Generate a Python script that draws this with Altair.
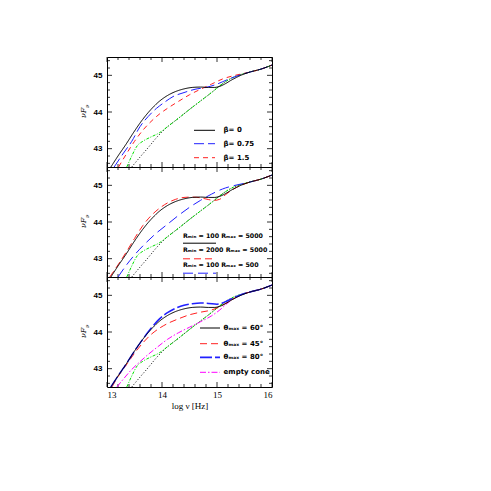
import altair as alt
import pandas as pd

# ---------------- data ----------------
# common components (same in all three panels)
green_x = [13.36, 13.45, 13.55, 13.65, 13.8, 13.95, 14.1, 14.3, 14.5, 14.7, 14.9, 15.1, 15.2, 15.3, 15.45, 15.6, 15.8, 16.0]
green_y = [42.5, 42.8, 43.08, 43.2, 43.32, 43.43, 43.6, 43.83, 44.07, 44.3, 44.53, 44.77, 44.87, 44.95, 45.03, 45.09, 45.17, 45.28]
dot_x = [13.45, 13.6, 13.75, 13.9, 14.05, 14.3, 14.5, 14.7, 14.9, 15.1, 15.2, 15.3, 15.45, 15.6, 15.8, 16.0]
dot_y = [42.5, 42.77, 43.03, 43.3, 43.53, 43.83, 44.07, 44.3, 44.53, 44.77, 44.87, 44.95, 45.03, 45.09, 45.17, 45.28]

# fiducial model (black solid, all panels)
fid_x = [13.07, 13.2, 13.35, 13.5, 13.65, 13.8, 13.95, 14.1, 14.25, 14.4, 14.55, 14.7, 14.85, 14.95, 15.05, 15.15, 15.25, 15.35, 15.45, 15.6, 15.8, 16.0]
fid_y = [42.5, 42.8, 43.13, 43.48, 43.8, 44.07, 44.29, 44.45, 44.56, 44.63, 44.67, 44.68, 44.67, 44.67, 44.7, 44.77, 44.86, 44.94, 45.01, 45.09, 45.17, 45.28]

# panel 1: beta
b075_x = [13.13, 13.3, 13.45, 13.6, 13.75, 13.9, 14.05, 14.2, 14.4, 14.6, 14.8, 15.0, 15.2, 15.4, 15.6, 15.8, 16.0]
b075_y = [42.5, 42.88, 43.2, 43.6, 43.88, 44.1, 44.27, 44.42, 44.53, 44.62, 44.67, 44.76, 44.89, 45.0, 45.09, 45.17, 45.28]
b15_x = [13.21, 13.35, 13.5, 13.65, 13.8, 13.95, 14.1, 14.3, 14.5, 14.7, 14.9, 15.1, 15.3, 15.45, 15.6, 15.8, 16.0]
b15_y = [42.5, 42.85, 43.2, 43.5, 43.74, 43.94, 44.1, 44.29, 44.47, 44.62, 44.76, 44.9, 44.99, 45.04, 45.09, 45.17, 45.28]

# panel 2: Rmin / Rmax
r2000_x = [13.05, 13.2, 13.35, 13.5, 13.65, 13.8, 13.95, 14.1, 14.25, 14.4, 14.55, 14.7, 14.85, 14.95, 15.05, 15.15, 15.25, 15.35, 15.45, 15.6, 15.8, 16.0]
r2000_y = [42.5, 42.83, 43.18, 43.55, 43.9, 44.17, 44.37, 44.52, 44.62, 44.67, 44.68, 44.66, 44.61, 44.59, 44.62, 44.74, 44.85, 44.94, 45.01, 45.09, 45.17, 45.28]
r500_x = [13.2, 13.35, 13.5, 13.7, 13.9, 14.1, 14.3, 14.5, 14.7, 14.9, 15.1, 15.3, 15.45, 15.6, 15.8, 16.0]
r500_y = [42.5, 42.82, 43.1, 43.42, 43.7, 43.94, 44.18, 44.4, 44.59, 44.76, 44.9, 44.99, 45.04, 45.09, 45.17, 45.28]

# panel 3: theta_max
t80_x = [13.07, 13.2, 13.35, 13.5, 13.65, 13.8, 13.95, 14.1, 14.25, 14.4, 14.55, 14.7, 14.85, 15.0, 15.1, 15.2, 15.35, 15.5, 15.65, 15.8, 16.0]
t80_y = [42.5, 42.8, 43.13, 43.48, 43.8, 44.1, 44.35, 44.53, 44.65, 44.73, 44.77, 44.79, 44.78, 44.76, 44.79, 44.86, 44.96, 45.05, 45.11, 45.17, 45.28]
t45_x = [13.09, 13.2, 13.35, 13.5, 13.65, 13.8, 13.95, 14.1, 14.3, 14.5, 14.7, 14.9, 15.05, 15.2, 15.35, 15.5, 15.65, 15.8, 16.0]
t45_y = [42.5, 42.78, 43.1, 43.42, 43.7, 43.93, 44.1, 44.23, 44.36, 44.47, 44.54, 44.6, 44.69, 44.82, 44.95, 45.05, 45.11, 45.17, 45.28]
cone_x = [13.18, 13.3, 13.45, 13.6, 13.75, 13.9, 14.1, 14.3, 14.5, 14.7, 14.9, 15.05, 15.2, 15.35, 15.5, 15.65, 15.8, 16.0]
cone_y = [42.5, 42.72, 42.98, 43.19, 43.39, 43.57, 43.8, 43.98, 44.13, 44.28, 44.44, 44.6, 44.8, 44.95, 45.05, 45.11, 45.17, 45.28]

# ticks and labels
x_major = [13, 14, 15, 16]
x_minor = [13.2, 13.4, 13.6, 13.8, 14.2, 14.4, 14.6, 14.8, 15.2, 15.4, 15.6, 15.8]
y_major = [43, 44, 45]
y_minor = [42.6, 42.8, 43.2, 43.4, 43.6, 43.8, 44.2, 44.4, 44.6, 44.8, 45.2, 45.4]
legend1 = ["β= 0", "β= 0.75", "β= 1.5"]
legend2 = ["Rₘᵢₙ = 100 Rₘₐₓ = 5000", "Rₘᵢₙ = 2000 Rₘₐₓ = 5000", "Rₘᵢₙ = 100 Rₘₐₓ = 500"]
legend3 = ["θₘₐₓ = 60°", "θₘₐₓ = 45°", "θₘₐₓ = 80°", "empty cone"]
x_title = "log ν [Hz]"

# ---------------- styling ----------------
W, H = 165, 110
XS = alt.Scale(domain=[13, 16], nice=False, zero=False)
YS = alt.Scale(domain=[42.5, 45.5], nice=False, zero=False)
BLACK, BLUE, RED, GREEN, MAG = "#000000", "#2020ff", "#ff2020", "#00e000", "#ff00ff"


def xenc(bottom):
    if bottom:
        ax = alt.Axis(values=x_major, ticks=False, domain=False, grid=False, format="d",
                      labelFont="Liberation Serif", labelFontSize=9, labelPadding=3,
                      labelColor="black", title=x_title, titleFont="Liberation Serif",
                      titleFontSize=9, titleFontWeight="normal", titlePadding=2, titleColor="black")
    else:
        ax = None
    return alt.X("x:Q", scale=XS, axis=ax)


def yenc():
    ax = alt.Axis(values=y_major, ticks=False, domain=False, grid=False, format="d",
                  labelFont="Liberation Sans", labelFontSize=8, labelFontWeight="bold",
                  labelPadding=5, labelColor="black", title=None)
    return alt.Y("y:Q", scale=YS, axis=ax)


def line(xs, ys, color, dash, bottom, width=1.0):
    df = pd.DataFrame({"x": xs, "y": ys})
    return alt.Chart(df).mark_line(color=color, strokeDash=dash, strokeWidth=width,
                                   clip=True, interpolate="monotone").encode(
        x=xenc(bottom), y=yenc())


def tick_layers(bottom):
    layers = []
    for vals, ln in ((x_major, 5), (x_minor, 3)):
        df = pd.DataFrame({"x": vals})
        layers.append(alt.Chart(df).mark_rule(color="black", strokeWidth=0.8).encode(
            x=xenc(bottom), y=alt.value(H), y2=alt.value(H - ln)))
        layers.append(alt.Chart(df).mark_rule(color="black", strokeWidth=0.8).encode(
            x=xenc(bottom), y=alt.value(0), y2=alt.value(ln)))
    for vals, ln in ((y_major, 5), (y_minor, 3)):
        df = pd.DataFrame({"y": vals})
        layers.append(alt.Chart(df).mark_rule(color="black", strokeWidth=0.8).encode(
            y=yenc(), x=alt.value(0), x2=alt.value(ln)))
        layers.append(alt.Chart(df).mark_rule(color="black", strokeWidth=0.8).encode(
            y=yenc(), x=alt.value(W), x2=alt.value(W - ln)))
    return layers


def ytitle():
    dummy = pd.DataFrame({"a": [0]})
    t1 = alt.Chart(dummy).mark_text(text="νF", angle=270, align="left", baseline="middle",
                                    font="DejaVu Serif", fontStyle="italic", fontSize=8,
                                    color="black").encode(x=alt.value(-23), y=alt.value(61))
    t2 = alt.Chart(dummy).mark_text(text="ν", angle=270, align="left", baseline="middle",
                                    font="DejaVu Serif", fontStyle="italic", fontSize=5.5,
                                    color="black").encode(x=alt.value(-20.5), y=alt.value(51))
    return [t1, t2]


def leg_line(x1, x2, y, color, dash, width=1.0):
    dummy = pd.DataFrame({"a": [0]})
    return alt.Chart(dummy).mark_rule(color=color, strokeDash=dash, strokeWidth=width).encode(
        x=alt.value(x1), x2=alt.value(x2), y=alt.value(y))


def leg_text(x, y, s, size=7):
    dummy = pd.DataFrame({"a": [0]})
    return alt.Chart(dummy).mark_text(text=s, align="left", baseline="middle",
                                      font="DejaVu Sans", fontSize=size, fontWeight="bold",
                                      color="black").encode(x=alt.value(x), y=alt.value(y))


DOT = [1, 2]
GDASH = [3, 1.5, 1, 1.5]


def common(bottom):
    return [line(dot_x, dot_y, BLACK, DOT, bottom), line(green_x, green_y, GREEN, GDASH, bottom)]


# ---------------- panel 1 ----------------
p1_layers = tick_layers(False) + ytitle() + common(False) + [
    line(b15_x, b15_y, RED, [5, 4], False),
    line(b075_x, b075_y, BLUE, [10, 4], False),
    line(fid_x, fid_y, BLACK, [1, 0], False),
    leg_line(87, 108, 73.3, BLACK, [1, 0]), leg_text(116.6, 73.3, legend1[0]),
    leg_line(87, 108, 86.7, BLUE, [10, 4]), leg_text(116.6, 86.7, legend1[1]),
    leg_line(87, 108, 100.7, RED, [5, 4]), leg_text(116.6, 100.7, legend1[2]),
]
p1 = alt.layer(*p1_layers).properties(width=W, height=H)

# ---------------- panel 2 ----------------
p2_layers = tick_layers(False) + ytitle() + common(False) + [
    line(r500_x, r500_y, BLUE, [10, 5], False),
    line(r2000_x, r2000_y, RED, [7, 4], False),
    line(fid_x, fid_y, BLACK, [1, 0], False),
    leg_text(76, 68.8, legend2[0], 6.3), leg_line(76, 109, 76.2, BLACK, [1, 0]),
    leg_text(76, 82.8, legend2[1], 6.3), leg_line(76, 109, 91.8, RED, [7, 4]),
    leg_text(76, 97.5, legend2[2], 6.3), leg_line(76, 109, 106.2, BLUE, [10, 5]),
]
p2 = alt.layer(*p2_layers).properties(width=W, height=H)

# ---------------- panel 3 ----------------
p3_layers = tick_layers(True) + ytitle() + common(True) + [
    line(cone_x, cone_y, MAG, [6, 2, 1.5, 2], True),
    line(t45_x, t45_y, RED, [7, 4], True),
    line(t80_x, t80_y, BLUE, [12, 3], True, width=1.5),
    line(fid_x, fid_y, BLACK, [1, 0], True),
    leg_line(93, 113, 51, BLACK, [1, 0]), leg_text(116.6, 51, legend3[0]),
    leg_line(93, 113, 66.7, RED, [7, 4]), leg_text(116.6, 66.7, legend3[1]),
    leg_line(93, 113, 80.3, BLUE, [12, 3], 1.8), leg_text(116.6, 80.3, legend3[2]),
    leg_line(93, 113, 95.3, MAG, [6, 2, 1.5, 2]), leg_text(116.6, 95.3, legend3[3]),
]
p3 = alt.layer(*p3_layers).properties(width=W, height=H)

chart = alt.vconcat(p1, p2, p3, spacing=0, bounds="flush").properties(
    padding={"left": 71, "top": 48, "right": 5, "bottom": 5},
    background="white",
).configure_view(stroke="black", strokeWidth=1)

chart.save("out.html", embed_options={"renderer": "svg", "actions": False})
